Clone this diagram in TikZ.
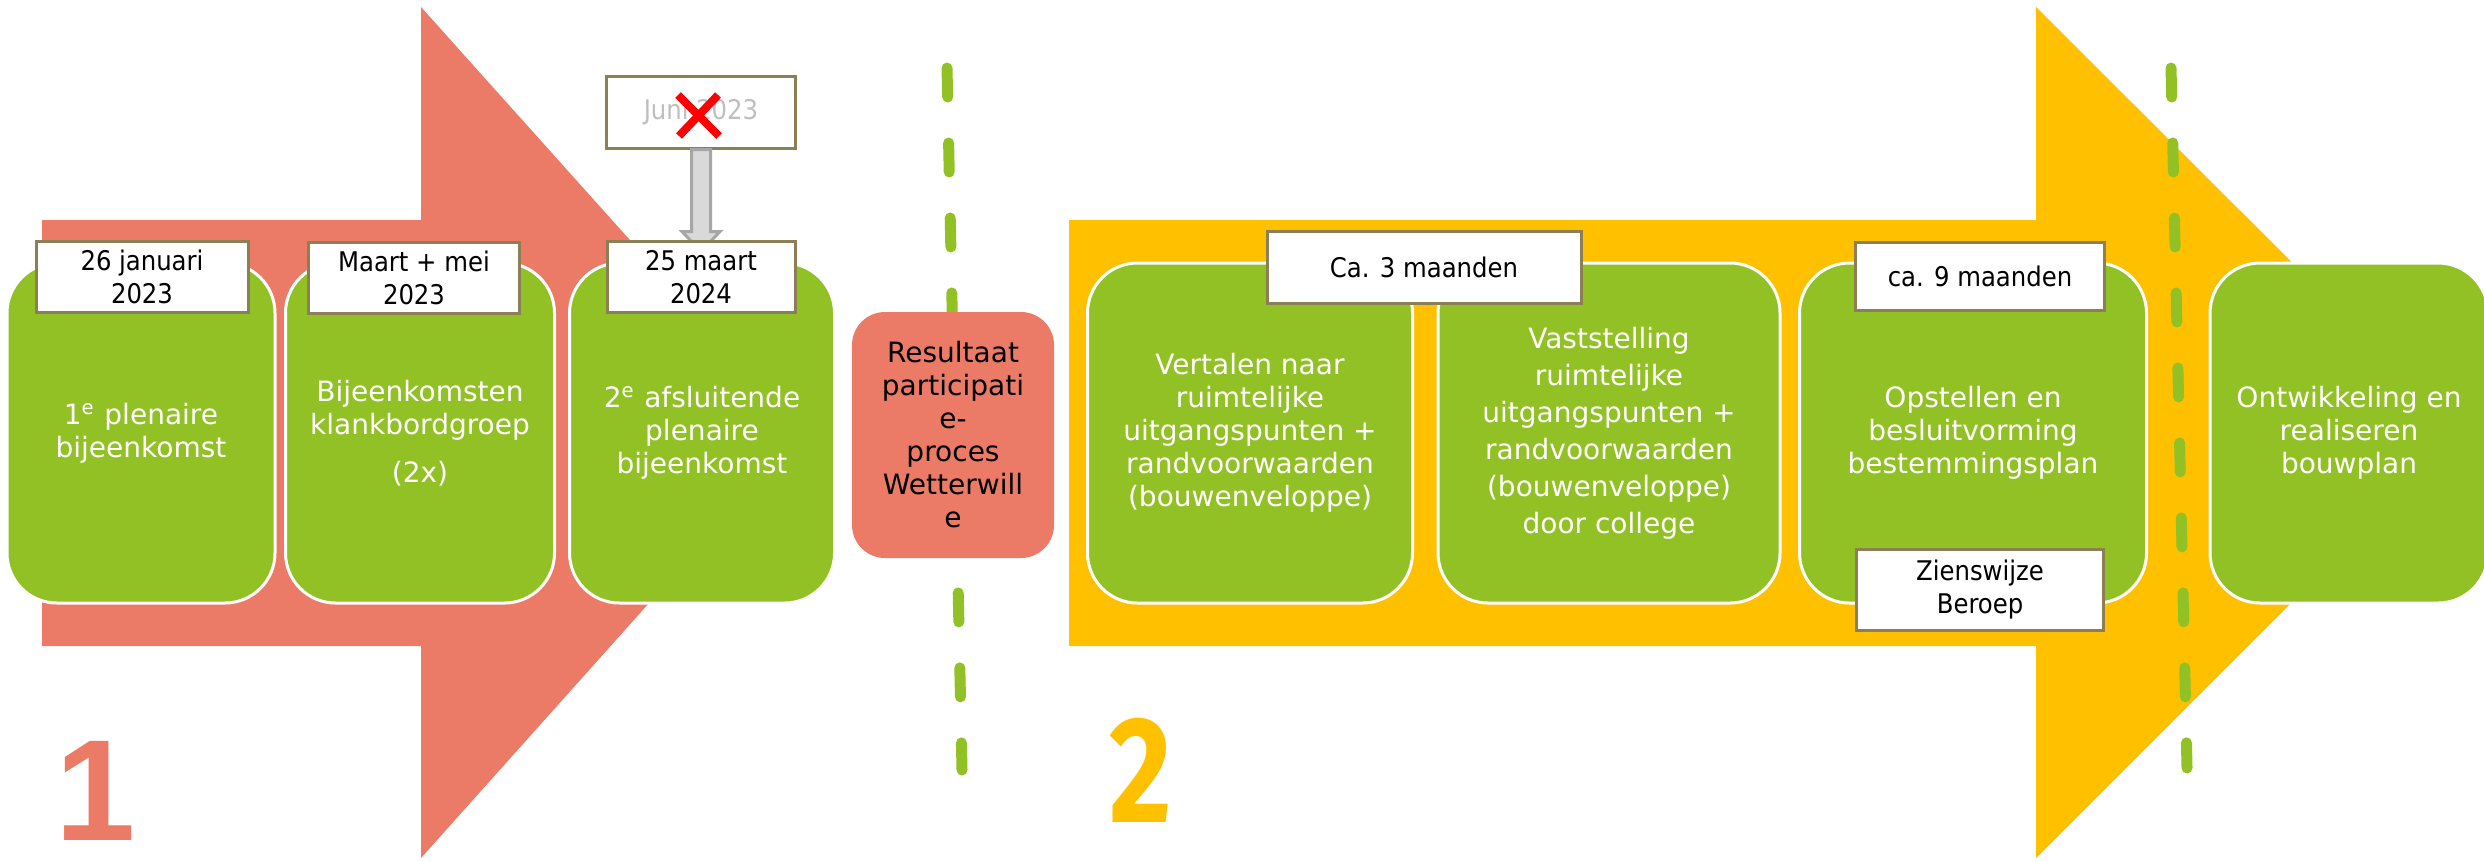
\documentclass[tikz,border=0pt]{standalone}
\usepackage{fontspec}
\setmainfont{DejaVu Sans}
\newfontfamily\smalfont{DejaVu Sans Condensed}
\newfontfamily\eenfont{Liberation Sans Bold}
\newfontfamily\tweefont[FakeStretch=0.8]{Fira Sans Bold}
\definecolor{rood}{HTML}{EB7A67}
\definecolor{geel}{HTML}{FFC000}
\definecolor{groen}{HTML}{92C126}
\definecolor{olijf}{HTML}{8C7F55}
\definecolor{lichtgrijs}{HTML}{D9D9D9}
\definecolor{grijs}{HTML}{A6A6A6}
\definecolor{vaag}{HTML}{BFBFBF}
\tikzset{
  fase/.style={draw=white, line width=0.3mm, fill=groen, text=white, rounded corners=5mm,
    minimum height=34mm, align=center, inner sep=0pt, font=\fontsize{7.97}{9.39}\selectfont},
  datum/.style={draw=olijf, line width=0.3mm, fill=white, minimum height=7.1mm,
    align=center, inner sep=0pt, font=\smalfont\fontsize{7.7}{9.39}\selectfont},
  streep/.style={groen, line width=1.1mm, line cap=round, dash pattern=on 2.9mm off 4.6mm},
}
\begin{document}
\begin{tikzpicture}[x=0.1mm, y=-0.1mm]
    \useasboundingbox (0,0) rectangle (2484,861);

    \fill[rood] (42,220)--(421,220)--(421,7)--(802,432)--(421,858)--(421,646)--(42,646)--cycle;
    \fill[geel] (1069,220)--(2036,220)--(2036,7)--(2462,432)--(2036,858)--(2036,646)--(1069,646)--cycle;

    \draw[streep] (947,68)--(962,770);

    \node[fase, minimum width=26.8mm] (stap1) at (141,433) {1\textsuperscript{e} plenaire\\bijeenkomst};
    \node[fase, minimum width=26.9mm] (stap2) at (420,433) {Bijeenkomsten\\klankbordgroep\\[1.5mm](2x)};
    \node[fase, minimum width=26.5mm] (stap3) at (702,433) {2\textsuperscript{e} afsluitende\\plenaire\\bijeenkomst};

    \node[fill=rood, rounded corners=3.3mm, minimum width=20.2mm, minimum height=24.6mm,
        align=center, inner sep=0pt, font=\fontsize{7.97}{9.39}\selectfont]
        (resultaat) at (953,435) {Resultaat\\participati\\e-\\proces\\Wetterwill\\e};

    \node[fase, minimum width=32.5mm] (stapA) at (1250,433) {Vertalen naar\\ruimtelijke\\uitgangspunten +\\randvoorwaarden\\(bouwenveloppe)};
    \node[fase, minimum width=34.2mm, font=\fontsize{7.97}{10.5}\selectfont] (stapB) at (1609,433) {Vaststelling\\ruimtelijke\\uitgangspunten +\\randvoorwaarden\\(bouwenveloppe)\\door college};
    \node[fase, minimum width=34.7mm] (stapC) at (1973,433) {Opstellen en\\besluitvorming\\bestemmingsplan};
    \node[fase, minimum width=27.8mm] (stapD) at (2349,433) {Ontwikkeling en\\realiseren\\bouwplan};

    \node[datum, minimum width=18.9mm, minimum height=7.2mm, text=vaag] (juni) at (701,112) {Juni 2023};
    \draw[draw=grijs, fill=lichtgrijs, line width=0.3mm] (juni.south) ++(-9.5,0) -- ++(0,82) -- ++(-9.5,0)
        -- ++(19,20) -- ++(19,-20) -- ++(-9.5,0) -- ++(0,-82) -- cycle;

    \node[datum, minimum width=21.2mm] (datum1) at (142,277) {26 januari\\2023};
    \node[datum, minimum width=21.1mm] (datum2) at (414,278) {Maart + mei\\2023};
    \node[datum, minimum width=18.8mm] (datum3) at (701,277) {25 maart\\2024};
    \node[datum, minimum width=31.4mm, minimum height=7.2mm] (duur3) at (1424,267) {Ca. 3 maanden};
    \node[datum, minimum width=24.9mm, minimum height=6.8mm] (duur9) at (1980,276) {ca. 9 maanden};
    \node[datum, minimum width=24.7mm, minimum height=8.1mm] (zienswijze) at (1980,590) {Zienswijze\\Beroep};

    \draw[red, line width=0.8mm] (678,95)--(719,136);
    \draw[red, line width=0.8mm] (718,95)--(679,136);

    \draw[streep] (2171,68)--(2187,768);

    \node[anchor=base, inner sep=0pt, text=rood, font=\eenfont\fontsize{41}{44}\selectfont] (een) at (96,840) {1};
    \node[anchor=base, inner sep=0pt, text=geel, font=\tweefont\fontsize{43}{45}\selectfont] (twee) at (1141,822) {2};
\end{tikzpicture}
\end{document}
